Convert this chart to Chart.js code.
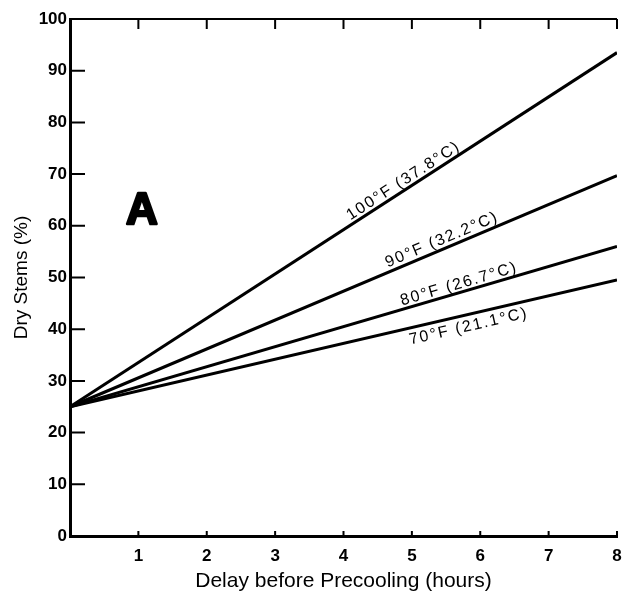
<!DOCTYPE html>
<html>
<head>
<meta charset="utf-8">
<script src="https://cdn.jsdelivr.net/npm/chart.js@4"></script>
<style>
  html, body { margin: 0; padding: 0; background: #fff; }
  #wrap { width: 623px; height: 594px; }
</style>
</head>
<body>
<div id="wrap"><canvas id="myChart" width="623" height="594"></canvas></div>
<script>
// delay before precooling (hours)
var hours = [0, 8];
var dry100 = [25, 93.5];
var dry90 = [25, 69.7];
var dry80 = [25, 56];
var dry70 = [25, 49.5];

var seriesNames = ['100°F (37.8°C)', '90°F (32.2°C)', '80°F (26.7°C)', '70°F (21.1°C)'];
// where each curve label sits, in data units
var labelX = [4.88, 5.44, 5.69, 5.83];
var labelY = [68.7, 57.3, 48.7, 40.5];

var xTicks = [1, 2, 3, 4, 5, 6, 7, 8];
var yTicks = [0, 10, 20, 30, 40, 50, 60, 70, 80, 90, 100];

var FONT = '"Liberation Sans", Arial, sans-serif';

function pts(ys) {
  return hours.map(function (h, i) { return { x: h, y: ys[i] }; });
}

var frame = {
  id: 'frame',
  afterDatasetsDraw: function (chart) {
    var c = chart.ctx, a = chart.chartArea;
    var xs = chart.scales.x, ys = chart.scales.y;
    c.save();
    c.strokeStyle = '#000';
    c.lineCap = 'butt';

    // top border with downward ticks
    c.lineWidth = 2;
    c.beginPath();
    c.moveTo(a.left, a.top);
    c.lineTo(a.right, a.top);
    xTicks.forEach(function (t) {
      var px = xs.getPixelForValue(t);
      c.moveTo(px, a.top);
      c.lineTo(px, a.top + 10);
    });
    c.stroke();

    // inward ticks on the bottom axis
    c.beginPath();
    xTicks.forEach(function (t) {
      var px = xs.getPixelForValue(t);
      c.moveTo(px, a.bottom);
      c.lineTo(px, a.bottom - 5);
    });
    c.stroke();

    // inward ticks on the left axis
    c.beginPath();
    yTicks.forEach(function (t) {
      if (t === 0 || t === 100) return;
      var py = ys.getPixelForValue(t);
      c.moveTo(a.left, py);
      c.lineTo(a.left + 15, py);
    });
    c.stroke();

    // curve labels, rotated along each line
    c.fillStyle = '#000';
    c.font = '16px ' + FONT;
    c.textAlign = 'center';
    c.textBaseline = 'middle';
    chart.data.datasets.forEach(function (ds, i) {
      var p0 = ds.data[0], p1 = ds.data[ds.data.length - 1];
      var ang = Math.atan2(ys.getPixelForValue(p1.y) - ys.getPixelForValue(p0.y),
                           xs.getPixelForValue(p1.x) - xs.getPixelForValue(p0.x));
      c.save();
      c.translate(xs.getPixelForValue(labelX[i]), ys.getPixelForValue(labelY[i]));
      c.rotate(ang);
      c.letterSpacing = '1.8px';
      c.fillText(seriesNames[i], 0, 0);
      c.restore();
    });

    // panel letter
    c.font = 'bold 44px ' + FONT;
    c.lineWidth = 2.5;
    c.lineJoin = 'round';
    var ax = xs.getPixelForValue(1.05), ay = ys.getPixelForValue(62.7);
    c.fillText('A', ax, ay);
    c.strokeText('A', ax, ay);
    c.restore();
  }
};

var ctx = document.getElementById('myChart').getContext('2d');
var myChart = new Chart(ctx, {
  type: 'scatter',
  data: {
    datasets: [
      { label: seriesNames[0], data: pts(dry100) },
      { label: seriesNames[1], data: pts(dry90) },
      { label: seriesNames[2], data: pts(dry80) },
      { label: seriesNames[3], data: pts(dry70) }
    ].map(function (d) {
      d.showLine = true;
      d.borderColor = '#000';
      d.borderWidth = 3;
      d.pointRadius = 0;
      d.fill = false;
      return d;
    })
  },
  options: {
    responsive: false,
    animation: false,
    layout: { padding: { top: 19, right: 6, left: 6, bottom: 0 } },
    plugins: { legend: { display: false }, tooltip: { enabled: false } },
    scales: {
      x: {
        type: 'linear', min: 0, max: 8,
        afterBuildTicks: function (s) { s.ticks = xTicks.map(function (v) { return { value: v }; }); },
        afterFit: function (s) { s.height = 58; s.paddingLeft = 0; s.paddingRight = 0; },
        grid: { display: false, drawTicks: false },
        border: { display: true, color: '#000', width: 3 },
        ticks: { color: '#000', padding: 10, font: { family: FONT, size: 17, weight: 'bold' } },
        title: { display: true, text: 'Delay before Precooling (hours)', color: '#000',
                 font: { family: FONT, size: 21 }, padding: { top: 4, bottom: 0 } }
      },
      y: {
        type: 'linear', min: 0, max: 100,
        afterBuildTicks: function (s) { s.ticks = yTicks.map(function (v) { return { value: v }; }); },
        afterFit: function (s) { s.width = 64; s.paddingTop = 0; s.paddingBottom = 0; },
        grid: { display: false, drawTicks: false },
        border: { display: true, color: '#000', width: 3 },
        ticks: { color: '#000', padding: 3, font: { family: FONT, size: 17, weight: 'bold' } },
        title: { display: true, text: 'Dry Stems (%)', color: '#000',
                 font: { family: FONT, size: 19 }, padding: { bottom: 0 } }
      }
    }
  },
  plugins: [frame]
});
</script>
</body>
</html>
